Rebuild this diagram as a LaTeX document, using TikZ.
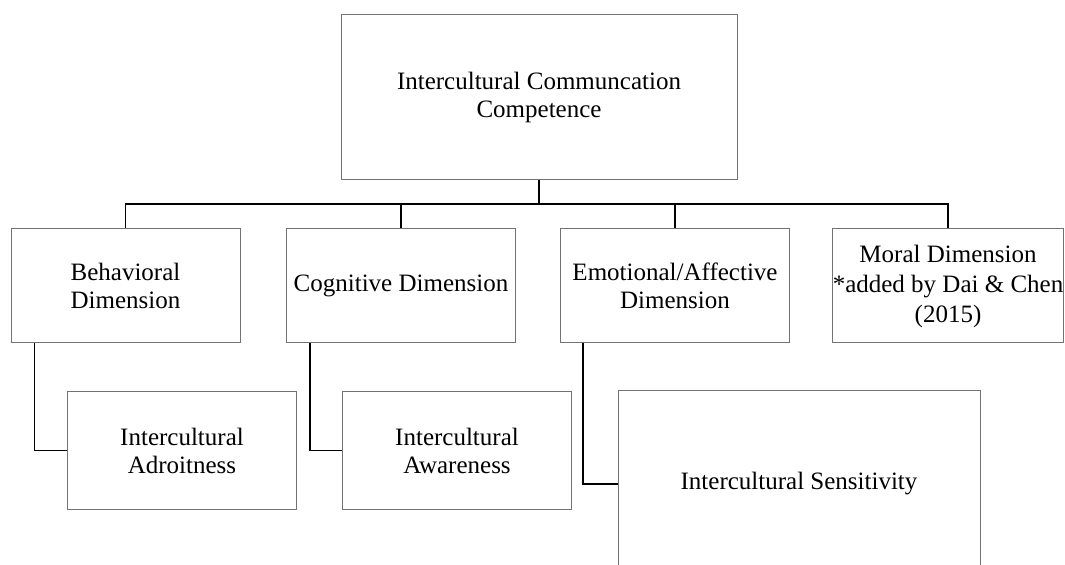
\documentclass[tikz,border=0pt]{standalone}
\usepackage{fontspec}
\setmainfont{Liberation Serif}
\usepackage{tikz}

\begin{document}
\begin{tikzpicture}[x=0.5pt, y=-0.5pt,
    box/.style={draw=black!55, line width=0.5pt, rectangle, align=center,
      inner sep=0pt, font=\fontsize{12.5}{14}\selectfont},
    link/.style={draw=black, line width=0.6pt}]
  \clip (0,0) rectangle (1065,565);

  \node[box, minimum width=198pt, minimum height=82.5pt] (ICC) at (539,97.5)
    {Intercultural Communcation\\Competence};

  \node[box, minimum width=114.5pt, minimum height=57pt] (BEH) at (125.5,286) {Behavioral\\Dimension};
  \node[box, minimum width=114.5pt, minimum height=57pt] (COG) at (401,286) {Cognitive Dimension};
  \node[box, minimum width=114.5pt, minimum height=57pt] (EMO) at (675,286) {Emotional/Affective\\Dimension};
  \node[box, minimum width=114pt, minimum height=57pt, font=\fontsize{12.5}{15}\selectfont] (MOR) at (948,286)
    {Moral Dimension\\*added by Dai \& Chen\\(2015)};

  \node[box, minimum width=114.5pt, minimum height=59pt] (ADR) at (182,450.7) {Intercultural\\Adroitness};
  \node[box, minimum width=114.5pt, minimum height=59pt] (AWA) at (457,450.7) {Intercultural\\Awareness};
  \node[box, minimum width=181pt, minimum height=93pt] (SEN) at (799,484) {Intercultural Sensitivity};

  \coordinate (BUS) at (539,204);
  \draw[link] (ICC) -- (BUS);
  \draw[link] (BUS) -| (BEH);
  \draw[link] (BUS) -| (COG);
  \draw[link] (BUS) -| (EMO);
  \draw[link] (BUS) -| (MOR);

  \draw[link] ([xshift=12pt]BEH.south west) |- (ADR);
  \draw[link] ([xshift=12pt]COG.south west) |- (AWA);
  \draw[link] ([xshift=11.5pt]EMO.south west) |- (SEN);
\end{tikzpicture}
\end{document}
